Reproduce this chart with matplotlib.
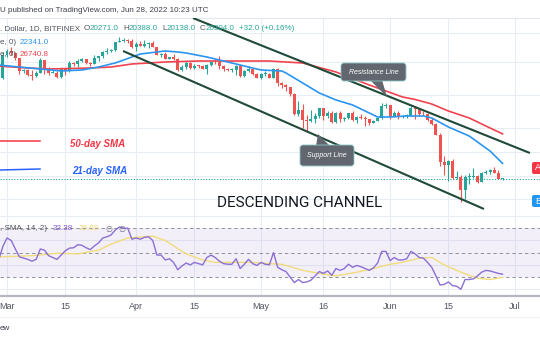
import numpy as np
import pandas as pd
import matplotlib
matplotlib.use("Agg")
import matplotlib.pyplot as plt
import matplotlib.dates as mdates
from matplotlib.patches import FancyBboxPatch, Polygon
from matplotlib.ticker import NullLocator

# daily candles, Feb 27 - Jun 28 2022 (BTC/USD, Bitfinex, 1D)
dates = pd.date_range("2022-02-27", "2022-06-28", freq="D")

opens = [
    39100, 37700,
    # Mar
    43200, 44400, 43900, 42450, 39150, 39400, 38400, 38000, 38750, 41950,
    39450, 38750, 38850, 37800, 39650, 39300, 41100, 40900, 41800, 42200,
    41250, 41000, 42400, 42900, 43950, 44300, 44500, 46800, 47100, 47450, 47050,
    # Apr
    45500, 46300, 45800, 46400, 46600, 45500, 43200, 43450, 42250, 42750,
    42150, 39500, 40100, 41150, 39950, 40550, 40400, 39700, 40800, 41500,
    41350, 40500, 39700, 39450, 39450, 40450, 38100, 39250, 39750, 38600,
    # May
    37700, 38450, 38500, 37700, 39700, 36550, 36000, 35500, 34050, 30100,
    31000, 29100, 28950, 29300, 29900, 31300, 29850, 30400, 28700, 30300,
    29200, 29450, 30300, 29100, 29650, 29500, 29200, 28600, 29000, 29450, 31700,
    # Jun
    31800, 29800, 30450, 29700, 29850, 29900, 31350, 31100, 30200, 30100,
    29100, 28400, 26600, 22500, 22150, 22600, 20400, 20500, 19000, 20550,
    20600, 20700, 19950, 21100, 21250, 21500, 21050, 20271,
]
highs = [
    39850, 44000,
    44950, 45400, 44100, 42500, 39650, 39650, 39450, 39350, 42600, 42050,
    40250, 39400, 39300, 39950, 39900, 41700, 41500, 42300, 42400, 42300,
    41550, 43350, 42950, 44200, 45100, 44800, 46900, 48200, 48100, 47700, 47600,
    46700, 47200, 47400, 46850, 47200, 45500, 43900, 43950, 42800, 43400,
    42400, 40700, 41550, 41500, 40850, 40700, 40600, 41050, 41750, 42200,
    42950, 40800, 39950, 39850, 40600, 40800, 39450, 40400, 39950, 38800,
    38650, 39150, 38650, 39950, 39850, 36650, 36150, 35500, 34300, 32650,
    32150, 30050, 30950, 30300, 31400, 31300, 30750, 30650, 30500, 30700,
    29600, 30450, 30650, 29850, 30200, 29850, 29350, 29050, 29550, 32200, 32350,
    31950, 30650, 30650, 29950, 30150, 31750, 31500, 31300, 30650, 30350,
    29450, 28550, 26900, 23350, 22750, 22950, 21350, 20750, 20800, 21000,
    21700, 20850, 21200, 21500, 21600, 21850, 21500, 20388,
]
lows = [
    37000, 37450,
    42850, 43350, 41850, 38600, 38650, 38100, 37200, 37900, 38650, 38600,
    38250, 38700, 37600, 37600, 38200, 38900, 40550, 40200, 41500, 40900,
    40550, 40900, 41750, 42600, 43600, 44100, 44400, 46700, 46950, 46600, 45250,
    44200, 45650, 45550, 45150, 45400, 43150, 42750, 42150, 42150, 42000,
    39250, 39250, 39600, 39600, 39800, 40050, 39600, 38550, 40550, 40850,
    39750, 39200, 39300, 39000, 38200, 37900, 37900, 38900, 38200, 37600,
    37400, 38050, 37500, 37650, 35800, 35300, 34750, 33700, 30050, 29800,
    27750, 27150, 28750, 28600, 29500, 29100, 29450, 28650, 28650, 28800,
    28950, 29250, 28900, 28650, 29350, 28050, 28300, 28500, 28850, 29300, 31250,
    29350, 29600, 29250, 29500, 29500, 29900, 29250, 29850, 29950, 28850,
    28150, 26600, 21950, 20850, 20100, 20300, 20300, 17600, 18000, 19700,
    20400, 19800, 19900, 20950, 20950, 21000, 20250, 20138,
]
closes = [
    37700, 43200,
    44400, 43900, 42450, 39150, 39400, 38400, 38000, 38750, 41950, 39450,
    38750, 38850, 37800, 39650, 39300, 41100, 40900, 41800, 42200, 41250,
    41000, 42400, 42900, 43950, 44300, 44500, 46800, 47100, 47450, 47050, 45500,
    46300, 45800, 46400, 46600, 45500, 43200, 43450, 42250, 42750, 42150,
    39500, 40100, 41150, 39950, 40550, 40400, 39700, 40800, 41500, 41350,
    40500, 39700, 39450, 39450, 40450, 38100, 39250, 39750, 38600, 37700,
    38450, 38500, 37700, 39700, 36550, 36000, 35500, 34050, 30100, 31000,
    29100, 28950, 29300, 29900, 31300, 29850, 30400, 28700, 30300, 29200,
    29450, 30300, 29100, 29650, 29500, 29200, 28600, 29000, 29450, 31700, 31800,
    29800, 30450, 29700, 29850, 29900, 31350, 31100, 30200, 30100, 29100,
    28400, 26600, 22500, 22150, 22600, 20400, 20500, 19000, 20550, 20600,
    20700, 19950, 21100, 21250, 21500, 21050, 20272, 20304,
]

# 21-day and 50-day SMA
sma21_dates = ["2022-02-27", "2022-03-04", "2022-03-09", "2022-03-14", "2022-03-19",
               "2022-03-23", "2022-03-27", "2022-03-31", "2022-04-02", "2022-04-06",
               "2022-04-08", "2022-04-11", "2022-04-13", "2022-04-18", "2022-04-23",
               "2022-04-28", "2022-05-01", "2022-05-06", "2022-05-07", "2022-05-11",
               "2022-05-15", "2022-05-19", "2022-05-23", "2022-05-26", "2022-05-29",
               "2022-06-01", "2022-06-05", "2022-06-09", "2022-06-11", "2022-06-15",
               "2022-06-20", "2022-06-25", "2022-06-28"]
sma21 = [40700, 40200, 39720, 39240, 39480, 40200, 41200, 42730, 43520, 44060,
         44330, 44060, 43790, 42730, 41450, 40200, 39480, 39240, 38760, 36470,
         34310, 32880, 31890, 30740, 29640, 29640, 29820, 29820, 29460, 27880,
         26390, 24080, 22341]
sma50_dates = ["2022-02-27", "2022-03-06", "2022-03-11", "2022-03-21", "2022-03-26",
               "2022-03-31", "2022-04-08", "2022-04-16", "2022-04-24", "2022-05-03",
               "2022-05-11", "2022-05-19", "2022-05-27", "2022-06-04", "2022-06-07",
               "2022-06-11", "2022-06-15", "2022-06-20", "2022-06-23", "2022-06-26",
               "2022-06-28"]
sma50 = [40440, 39960, 39720, 39960, 40200, 40950, 41450, 41700, 41700, 41700,
         41200, 39000, 36020, 33480, 32980, 32080, 30740, 29460, 28400, 27380,
         26740.8]

# RSI (14) daily, Feb 27 - Jun 28
rsi = [
    44, 55,
    62, 60, 53, 46.5, 45.5, 44.5, 43, 44.5, 53, 52, 47.5, 46, 44.5, 48, 51.5,
    53.7, 54, 56.5, 56, 54, 52.5, 55.5, 58, 62, 63, 64.5, 68.5, 71, 70, 70, 61,
    62, 61, 62.5, 63, 60, 48, 48, 44, 45, 42, 36, 39, 41.5, 40, 42,
    41, 40, 46, 48, 46, 43, 41, 40.5, 40.5, 45, 37, 40.5, 44.5, 41, 39.5,
    42, 40.5, 40, 50, 38, 36, 34.5, 30, 25.5, 28, 25.5, 26, 27.5, 31, 34.5,
    33, 35, 31.5, 37, 35.5, 37, 40.5, 38, 39.5, 38.5, 37, 35.5, 37.5, 41.5, 51, 51,
    43.5, 46, 44, 44, 45, 51, 49, 46, 45.5, 42, 38, 31, 23.5, 24,
    26, 23, 22.5, 20, 28, 28, 28.5, 31, 34, 35.5, 35, 34, 33, 32.38,
]
rsi_ma_dates = ["2022-02-27", "2022-03-07", "2022-03-13", "2022-03-18", "2022-03-23",
                "2022-03-26", "2022-03-30", "2022-04-05", "2022-04-08", "2022-04-13",
                "2022-04-17", "2022-04-20", "2022-04-24", "2022-04-29", "2022-05-03",
                "2022-05-06", "2022-05-11", "2022-05-15", "2022-05-19", "2022-05-24",
                "2022-05-28", "2022-06-01", "2022-06-04", "2022-06-08", "2022-06-11",
                "2022-06-14", "2022-06-18", "2022-06-22", "2022-06-25", "2022-06-28"]
rsi_ma = [46.5, 47.5, 49.5, 49, 52, 57, 62, 63.5, 60, 49,
          44, 42, 42, 42, 41, 40.5, 35.5, 33, 31, 34,
          37, 40.5, 42, 45.5, 46, 40, 34, 29, 28, 29.69]

grid_prices = [17970, 20680, 23940, 27710, 33890, 41450, 49470]
tick_dates = ["2022-03-01", "2022-03-15", "2022-04-01", "2022-04-15", "2022-05-01",
              "2022-05-16", "2022-06-01", "2022-06-15", "2022-07-01"]
tick_labels = ["Mar", "15", "Apr", "15", "May", "16", "Jun", "15", "Jul"]

# hand-drawn channel lines (date, price)
upper_line = (["2022-04-14 16:00", "2022-07-04 14:00"], [54200, 23790])
lower_line = (["2022-03-28 21:00", "2022-06-23 13:00"], [44330, 16910])

UP, DOWN = "#26a69a", "#ef5350"
GRID = "#e8edf4"
FONT = ["Liberation Sans", "DejaVu Sans"]
FS = 5.8

x = mdates.date2num(dates)
o, h, l, c = map(np.array, (opens, highs, lows, closes))

fig = plt.figure(figsize=(5.4, 3.4), dpi=100)
fig.patch.set_facecolor("white")
ax = fig.add_axes([0, 1 - 216 / 340, 1, 198 / 340])
rax = fig.add_axes([0, 1 - 296 / 340, 1, 80 / 340], sharex=ax)

x0 = mdates.date2num(np.datetime64("2022-03-01"))
ax.set_xlim(x0 - 1.681, x0 + 128.0)

# candles
col = np.where(c >= o, UP, DOWN)
ax.vlines(x, l, h, colors=col, lw=0.8, zorder=2)
bot = np.minimum(o, c)
hgt = np.maximum(np.abs(c - o), bot * 0.005)
ax.bar(x, hgt, bottom=bot, width=0.72, color=col, lw=0, zorder=3)

ax.plot(mdates.date2num(pd.to_datetime(sma50_dates)), sma50, color="#f0434f", lw=1.2, zorder=4)
ax.plot(mdates.date2num(pd.to_datetime(sma21_dates)), sma21, color="#2b95f0", lw=1.2, zorder=4)
ax.axhline(closes[-1], color=UP, lw=0.8, ls=(0, (1, 1.5)), zorder=1)

for ln in (upper_line, lower_line):
    ax.plot(mdates.date2num(pd.to_datetime(ln[0])), ln[1], color="#1f4a38", lw=1.5,
            zorder=6, solid_capstyle="butt")

ax.set_yscale("log")
ax.set_ylim(16201, 54211)
ax.set_yticks(grid_prices)
ax.yaxis.set_minor_locator(NullLocator())
ax.set_xticks(mdates.date2num(pd.to_datetime(tick_dates)))
ax.grid(True, color=GRID, lw=0.8)
ax.set_axisbelow(True)
ax.tick_params(which="both", length=0, labelleft=False, labelbottom=False)
for s in ("left", "right"):
    ax.spines[s].set_visible(False)
ax.spines["top"].set_color("#e3e7ee")
ax.spines["bottom"].set_color("#e3e7ee")
ax.spines["top"].set_linewidth(0.8)
ax.spines["bottom"].set_linewidth(0.8)

# RSI pane
rax.axhspan(30, 70, color="#7e57c2", alpha=0.09, lw=0)
for lv in (70, 50, 30):
    rax.axhline(lv, color="#8f929b", lw=0.7, ls=(0, (3.5, 3)))
rax.plot(x, rsi, color="#8c6fd4", lw=1.0, zorder=3)
rax.plot(mdates.date2num(pd.to_datetime(rsi_ma_dates)), rsi_ma, color="#f1dc7c", lw=1.0, zorder=2)
rax.set_ylim(14.5, 79.8)
rax.set_yticks([20, 40, 60, 80])
rax.grid(True, color=GRID, lw=0.8)
rax.set_axisbelow(True)
rax.set_xticks(mdates.date2num(pd.to_datetime(tick_dates)))
rax.set_xticklabels(tick_labels, fontsize=6.5, color="#50535e", family=FONT)
rax.tick_params(length=0, labelleft=False, pad=4.5)
for s in ("left", "right", "top"):
    rax.spines[s].set_visible(False)
rax.spines["bottom"].set_color("#b4b7bf")
rax.spines["bottom"].set_linewidth(1.6)

# overlay in pixel coordinates for legend text and drawings
ov = fig.add_axes([0, 0, 1, 1], zorder=10)
ov.set_xlim(0, 540)
ov.set_ylim(340, 0)
ov.axis("off")
ov.patch.set_alpha(0)

ov.plot([0, 540], [317, 317], color="#eef0f4", lw=0.8)
ov.text(0, 10, "U published on TradingView.com, Jun 28, 2022 10:23 UTC", fontsize=FS,
        color="#3c3f4a", va="center", family=FONT)
ov.text(0, 328, "ew", fontsize=FS, color="#3c3f4a", va="center", family=FONT)

hdr = [(". Dollar, 1D, BITFINEX", 0, "#50535e"), ("O", 84, "#50535e"), ("20271.0", 89.5, UP),
       ("H", 123, "#50535e"), ("20388.0", 128.5, UP), ("L", 162, "#50535e"),
       ("20138.0", 166.5, UP), ("C", 200, "#50535e"), ("20304.0", 205.5, UP),
       ("+32.0 (+0.16%)", 239, UP)]
for t, xx, cc in hdr:
    ov.text(xx, 29, t, fontsize=FS, color=cc, va="center", family=FONT)
ov.text(0, 42, "e, 0)", fontsize=FS, color="#50535e", va="center", family=FONT)
ov.text(20, 42, "22341.0", fontsize=FS, color="#2b95f0", va="center", family=FONT)
ov.text(0, 54, "e, 0)", fontsize=FS, color="#50535e", va="center", family=FONT)
ov.text(20, 54, "26740.8", fontsize=FS, color="#f0434f", va="center", family=FONT)

ov.text(0, 229, ", SMA, 14, 2)", fontsize=FS, color="#50535e", va="center", family=FONT)
ov.text(53, 229, "32.38", fontsize=FS, color="#7e57c2", va="center", family=FONT)
ov.text(79, 229, "29.69", fontsize=FS, color="#eed66a", va="center", family=FONT)
ov.text(105, 229, "\u2205", fontsize=FS, color="#6a6d78", va="center", family=["DejaVu Sans"])
ov.text(118, 229, "\u2205", fontsize=FS, color="#6a6d78", va="center", family=["DejaVu Sans"])

# SMA notes
ov.plot([0, 40], [141, 141], color="#f23645", lw=1.1)
ov.plot([0, 40], [170, 169], color="#2962ff", lw=1.1)
ov.text(70, 144, "50-day SMA", fontsize=7, color="#f23645", style="italic", weight="bold",
        va="center", family=FONT)
ov.text(72, 171, "21-day SMA", fontsize=7, color="#2962ff", style="italic", weight="bold",
        va="center", family=FONT)

ov.text(217, 203, "DESCENDING CHANNEL", fontsize=11, color="#131722", va="center",
        family=["Roboto", "Liberation Sans"])

# callouts
def callout(x1, y1, w, hh, tail, label):
    ov.add_patch(Polygon(tail, closed=True, fc="#62666e", ec="none", zorder=5))
    ov.add_patch(FancyBboxPatch((x1, y1), w, hh, boxstyle="round,pad=0,rounding_size=3",
                                fc="#62666e", ec="#8cc8c8", lw=0.6, zorder=5))
    ov.text(x1 + w / 2, y1 + hh / 2, label, fontsize=5, color="white", style="italic",
            ha="center", va="center", family=FONT, zorder=6)

callout(341, 63, 65, 18, [(370, 80), (382, 80), (387, 97)], "Resistance Line")
callout(300, 145, 54, 21, [(316, 146), (330, 146), (318, 134)], "Support Line")

# price-scale tags at the right edge
for yy, cc, t in ((162, "#f23645", "A"), (195, "#2196f3", "B")):
    ov.add_patch(FancyBboxPatch((532, yy), 14, 12, boxstyle="round,pad=0,rounding_size=2",
                                fc=cc, ec="none", zorder=5))
    ov.text(535, yy + 6, t, fontsize=6.5, color="white", va="center", family=FONT, zorder=6)

fig.savefig("out.png", dpi=100)
